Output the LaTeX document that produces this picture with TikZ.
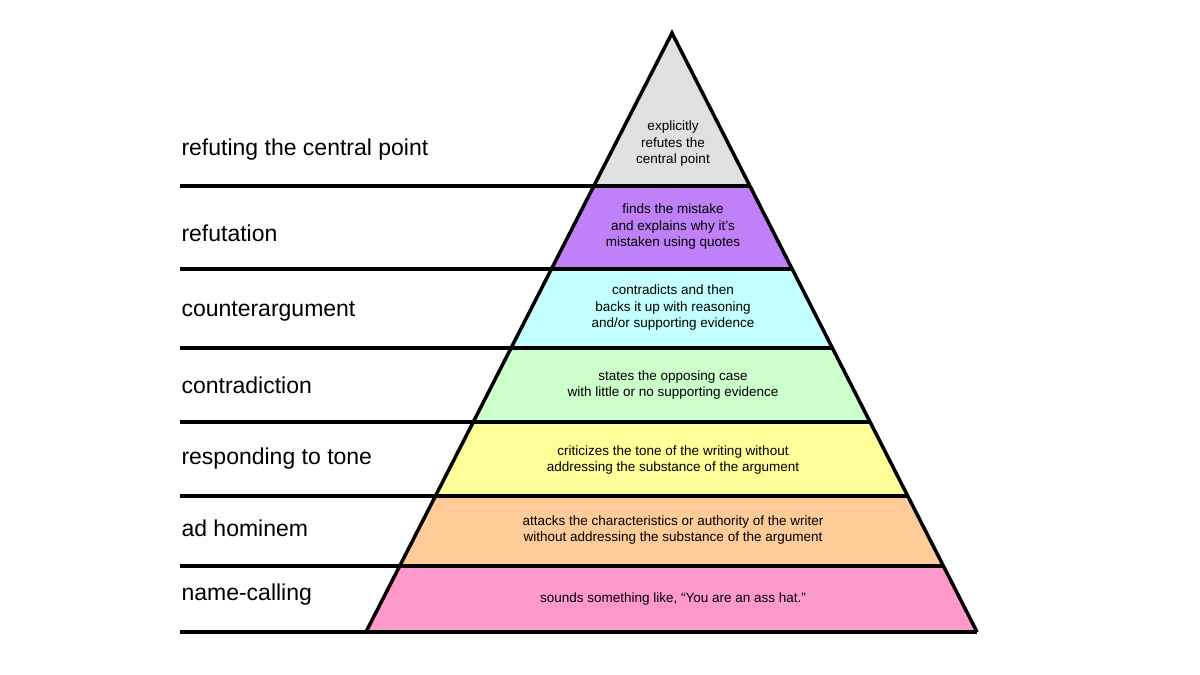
\documentclass[tikz,border=0pt]{standalone}
\usepackage{fontspec}
\setmainfont{Liberation Sans}
\begin{document}
\begin{tikzpicture}[x=1pt,y=-1pt,
  lbl/.style={anchor=west,font=\fontsize{23}{26}\selectfont},
  inner/.style={align=center,font=\fontsize{13.5}{16.5}\selectfont,inner sep=0pt}]
\useasboundingbox (0,0) rectangle (1200,675);
\def\xl#1{672-0.5109*(#1-33)}
\def\xr#1{672+0.5092*(#1-33)}
\foreach \ya/\yb/\c in {33/186/E0E0E0,186/269/C080F8,269/348/C4FFFF,348/422/CCFFCC,422/496/FFFF99,496/566/FFCC99,566/632/FF99CC}{
  \definecolor{bandc}{HTML}{\c}
  \fill[bandc] ({\xl{\ya}},\ya) -- ({\xr{\ya}},\ya) -- ({\xr{\yb}},\yb) -- ({\xl{\yb}},\yb) -- cycle;
}
\foreach \y in {186,269,348,422,496,566,632}{
  \draw[line width=3.5pt] (180,\y) -- ({\xr{\y}},\y);
}
\draw[line width=3.5pt,line join=miter] ({\xl{632}},632) -- (672,33) -- ({\xr{632}},632);
\node[lbl] (l1) at (178,150) {refuting the central point};
\node[lbl] (l2) at (178,233) {refutation};
\node[lbl] (l3) at (178,311) {counterargument};
\node[lbl] (l4) at (178,385) {contradiction};
\node[lbl] (l5) at (178,459) {responding to tone};
\node[lbl] (l6) at (178,528) {ad hominem};
\node[lbl] (l7) at (178,595) {name-calling};
\node[inner] (t1) at (673,144) {explicitly\\refutes the\\central point};
\node[inner] (t2) at (673,227) {finds the mistake\\and explains why it's\\mistaken using quotes};
\node[inner] (t3) at (673,308) {contradicts and then\\backs it up with reasoning\\and/or supporting evidence};
\node[inner] (t4) at (673,385) {states the opposing case\\with little or no supporting evidence};
\node[inner] (t5) at (673,460) {criticizes the tone of the writing without\\addressing the substance of the argument};
\node[inner] (t6) at (673,530) {attacks the characteristics or authority of the writer\\without addressing the substance of the argument};
\node[inner] (t7) at (673,599) {sounds something like, “You are an ass hat.”};
\end{tikzpicture}
\end{document}
